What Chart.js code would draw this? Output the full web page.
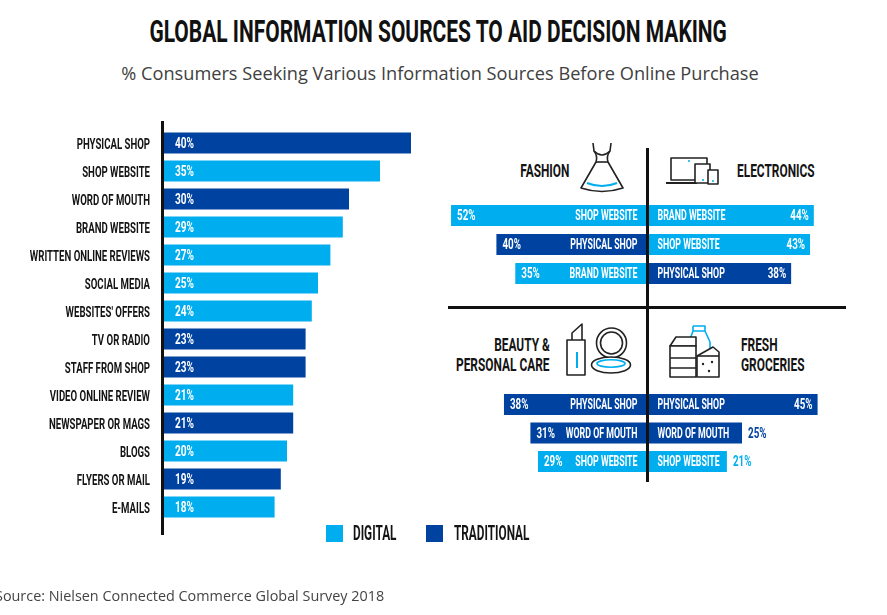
<!DOCTYPE html>
<html>
<head>
<meta charset="utf-8">
<script src="https://cdn.jsdelivr.net/npm/chart.js@4.4.0/dist/chart.umd.min.js"></script>
<style>
  body { margin: 0; background: #fff; }
  #page { position: relative; width: 887px; height: 615px; overflow: hidden; background: #fff; }
  .abs { position: absolute; }
  .cond { position: absolute; display: inline-block; font-family: Roboto, sans-serif; font-weight: 700;
          white-space: nowrap; color: #141414; }
  #title { left: 0; width: 877px; top: 16px; text-align: center; }
  #title span { display: inline-block; font: 700 31px/31px Roboto, sans-serif; color: #111;
                transform: scaleX(0.676); white-space: nowrap; }
  #subtitle { left: 0; width: 880px; top: 63.5px; text-align: center; font: 18.2px/18px "Open Sans", sans-serif;
              color: #404040; white-space: nowrap; }
  #source { left: -5px; top: 589.4px; font: 14.4px/14px "Open Sans", sans-serif; color: #444; white-space: nowrap; }
  .head { font-size: 17.5px; line-height: 17.5px; transform: scaleX(0.68); }
  .rt { transform-origin: right center; }
  .lt { transform-origin: left center; }
  .leg { font-size: 20px; line-height: 20px; transform: scaleX(0.59); transform-origin: left center; }
  .sw { position: absolute; width: 17px; height: 17px; }
  canvas { position: absolute; }
</style>
</head>
<body>
<div id="page">
  <div id="title" class="abs"><span>GLOBAL INFORMATION SOURCES TO AID DECISION MAKING</span></div>
  <div id="subtitle" class="abs">% Consumers Seeking Various Information Sources Before Online Purchase</div>

  <canvas id="main" width="450" height="420" style="left:0;top:118px"></canvas>
  <canvas id="top" width="420" height="100" style="left:440px;top:195px"></canvas>
  <canvas id="bottom" width="420" height="100" style="left:440px;top:385px"></canvas>

  <!-- dividers -->
  <div class="abs" style="left:645.75px;top:148px;width:3.5px;height:334px;background:#111"></div>
  <div class="abs" style="left:448px;top:306px;width:398px;height:3px;background:#111"></div>

  <span class="cond head rt" style="right:318px;top:162.7px">FASHION</span>
  <span class="cond head lt" style="left:737px;top:162.7px">ELECTRONICS</span>
  <span class="cond head rt" style="right:337px;top:336.7px">BEAUTY &amp;</span>
  <span class="cond head rt" style="right:337px;top:356.7px">PERSONAL CARE</span>
  <span class="cond head lt" style="left:741px;top:336.7px">FRESH</span>
  <span class="cond head lt" style="left:741px;top:356.7px">GROCERIES</span>

  <!-- icons -->
  <svg class="abs" style="left:0;top:0" width="887" height="615" fill="none" stroke="#222" stroke-width="1.6" stroke-linejoin="round">
    <!-- dress -->
    <path d="M593,143 L594,151 Q598,156 596,162 L581,188 Q602,195 623,188 L608,162 Q606,156 610,151 L611,143"/>
    <path d="M594,151 Q602,159 610,151"/>
    <path d="M596,162 L608,162"/>
    <path d="M587,183 Q602,189 617,183" stroke="#00AEEF" stroke-width="2"/>
    <!-- devices -->
    <rect x="671" y="158" width="36" height="22"/>
    <path d="M666,183 L697,183" stroke-width="2"/>
    <rect x="695" y="164" width="15" height="19" fill="#fff"/>
    <rect x="708" y="170" width="10" height="14" fill="#fff"/>
    <circle cx="689" cy="161" r="1" fill="#00AEEF" stroke="none"/>
    <circle cx="703" cy="180" r="1" fill="#00AEEF" stroke="none"/>
    <circle cx="713" cy="181" r="1" fill="#00AEEF" stroke="none"/>
    <!-- lipstick -->
    <path d="M572,340 L572,333 L582,324 L582,340"/>
    <rect x="567" y="340" width="18" height="35"/>
    <path d="M577,352 L577,368" stroke="#00AEEF" stroke-width="2"/>
    <!-- compact -->
    <circle cx="611.5" cy="343" r="15"/>
    <circle cx="611.5" cy="343" r="11"/>
    <ellipse cx="611" cy="365" rx="19.5" ry="8" fill="#fff"/>
    <ellipse cx="611" cy="363.5" rx="14" ry="3.7" stroke="#00AEEF"/>
    <!-- groceries -->
    <path d="M693,326 L705,326 L705,331 L710,342 L710,358 M693,326 L693,331 L689,342 L689,346 M693,331 L705,331" stroke="#00AEEF"/>
    <path d="M670,346 L676,337 L696,337 L696,346 Z" fill="#fff"/>
    <rect x="670" y="346" width="26" height="31" fill="#fff"/>
    <path d="M670,358 L696,358 M670,368 L696,368"/>
    <path d="M697,356 L713,347 L719,352 L719,377 L697,377 Z" fill="#fff"/>
    <path d="M697,356 L719,356"/>
    <circle cx="703" cy="364" r="1.2" fill="#222" stroke="none"/>
    <circle cx="712" cy="362" r="1.2" fill="#222" stroke="none"/>
    <circle cx="709" cy="371" r="1.2" fill="#222" stroke="none"/>
  </svg>

  <div id="legend"></div>

  <div id="source" class="abs">Source: Nielsen Connected Commerce Global Survey 2018</div>
</div>

<script>
const DIGITAL = '#00AEEF';
const TRADITIONAL = '#0042A0';

// main chart
const sourceLabels = ['PHYSICAL SHOP', 'SHOP WEBSITE', 'WORD OF MOUTH', 'BRAND WEBSITE', 'WRITTEN ONLINE REVIEWS',
  'SOCIAL MEDIA', "WEBSITES' OFFERS", 'TV OR RADIO', 'STAFF FROM SHOP', 'VIDEO ONLINE REVIEW',
  'NEWSPAPER OR MAGS', 'BLOGS', 'FLYERS OR MAIL', 'E-MAILS'];
const sourceValues = [40, 35, 30, 29, 27, 25, 24, 23, 23, 21, 21, 20, 19, 18];
const sourceKinds = ['T', 'D', 'T', 'D', 'D', 'D', 'D', 'T', 'T', 'D', 'T', 'D', 'T', 'D'];

// category panels
const fashionLabels = ['SHOP WEBSITE', 'PHYSICAL SHOP', 'BRAND WEBSITE'];
const fashionValues = [52, 40, 35];
const fashionKinds = ['D', 'T', 'D'];

const electronicsLabels = ['BRAND WEBSITE', 'SHOP WEBSITE', 'PHYSICAL SHOP'];
const electronicsValues = [44, 43, 38];
const electronicsKinds = ['D', 'D', 'T'];

const beautyLabels = ['PHYSICAL SHOP', 'WORD OF MOUTH', 'SHOP WEBSITE'];
const beautyValues = [38, 31, 29];
const beautyKinds = ['T', 'T', 'D'];

const groceryLabels = ['PHYSICAL SHOP', 'WORD OF MOUTH', 'SHOP WEBSITE'];
const groceryValues = [45, 25, 21];
const groceryKinds = ['T', 'T', 'D'];

const legendLabels = ['DIGITAL', 'TRADITIONAL'];

const kindColor = k => (k === 'D' ? DIGITAL : TRADITIONAL);

// condensed text: draws with a horizontal squeeze so Roboto looks like the narrow poster face
function squeezed(ctx, text, x, y, size, color, align, sq) {
  ctx.save();
  ctx.font = '700 ' + size + 'px Roboto, sans-serif';
  ctx.fillStyle = color;
  ctx.textAlign = align;
  ctx.textBaseline = 'alphabetic';
  ctx.translate(x, y + size * 0.711 / 2);
  ctx.scale(sq, 1);
  ctx.fillText(text, 0, 0);
  ctx.restore();
}
function squeezedWidth(ctx, text, size, sq) {
  ctx.save();
  ctx.font = '700 ' + size + 'px Roboto, sans-serif';
  const w = ctx.measureText(text).width * sq;
  ctx.restore();
  return w;
}

const mainLabelPlugin = {
  id: 'mainLabels',
  afterDatasetsDraw(chart) {
    const { ctx, chartArea } = chart;
    // axis line
    ctx.save();
    ctx.fillStyle = '#111';
    ctx.fillRect(chartArea.left - 2, chartArea.top - 8, 3, chartArea.bottom - chartArea.top + 22);
    ctx.restore();
    const meta = chart.getDatasetMeta(0);
    meta.data.forEach((bar, i) => {
      squeezed(ctx, chart.data.labels[i], chartArea.left - 13, bar.y, 15.5, '#141414', 'right', 0.62);
      squeezed(ctx, sourceValues[i] + '%', bar.base + 12, bar.y, 14, '#fff', 'left', 0.72);
    });
  }
};

new Chart(document.getElementById('main'), {
  type: 'bar',
  data: {
    labels: sourceLabels,
    datasets: [{
      data: sourceValues,
      backgroundColor: sourceKinds.map(kindColor),
      categoryPercentage: 1,
      barPercentage: 0.75
    }]
  },
  options: {
    indexAxis: 'y',
    responsive: false,
    animation: false,
    layout: { padding: { left: 163, right: 8, top: 11, bottom: 17 } },
    scales: {
      x: { display: false, min: 0, max: 45 },
      y: { display: false }
    },
    plugins: { legend: { display: false }, tooltip: { enabled: false } }
  },
  plugins: [mainLabelPlugin]
});

const panelLabelPlugin = {
  id: 'panelLabels',
  afterDatasetsDraw(chart) {
    const { ctx } = chart;
    chart.data.datasets.forEach((ds, di) => {
      const meta = chart.getDatasetMeta(di);
      meta.data.forEach((bar, i) => {
        const v = Math.abs(ds.data[i]) + '%';
        const label = ds.rowLabels[i];
        if (ds.side === 'left') {
          squeezed(ctx, label, bar.base - 10, bar.y, 14, '#fff', 'right', 0.63);
          squeezed(ctx, v, bar.x + 6, bar.y, 14, '#fff', 'left', 0.7);
        } else {
          squeezed(ctx, label, bar.base + 10, bar.y, 14, '#fff', 'left', 0.63);
          const need = 10 + squeezedWidth(ctx, label, 14, 0.63) + 12 + squeezedWidth(ctx, v, 14, 0.7) + 5;
          if (bar.x - bar.base > need) {
            squeezed(ctx, v, bar.x - 5, bar.y, 14, '#fff', 'right', 0.7);
          } else {
            squeezed(ctx, v, bar.x + 6, bar.y, 14, kindColor(ds.kinds[i]), 'left', 0.7);
          }
        }
      });
    });
  }
};

function panel(id, leftL, leftV, leftK, rightL, rightV, rightK, pad, barPct) {
  new Chart(document.getElementById(id), {
    type: 'bar',
    data: {
      labels: leftL,
      datasets: [
        { side: 'left', rowLabels: leftL, kinds: leftK, data: leftV.map(v => -v),
          backgroundColor: leftK.map(kindColor), categoryPercentage: 1, barPercentage: barPct },
        { side: 'right', rowLabels: rightL, kinds: rightK, data: rightV,
          backgroundColor: rightK.map(kindColor), categoryPercentage: 1, barPercentage: barPct }
      ]
    },
    options: {
      indexAxis: 'y',
      responsive: false,
      animation: false,
      layout: { padding: pad },
      scales: {
        x: { display: false, stacked: true, min: -54, max: 54 },
        y: { display: false, stacked: true }
      },
      plugins: { legend: { display: false }, tooltip: { enabled: false } }
    },
    plugins: [panelLabelPlugin]
  });
}

panel('top', fashionLabels, fashionValues, fashionKinds, electronicsLabels, electronicsValues, electronicsKinds,
  { left: 3.5, right: 8.4, top: 6, bottom: 7 }, 21 / 29);
panel('bottom', beautyLabels, beautyValues, beautyKinds, groceryLabels, groceryValues, groceryKinds,
  { left: 3.5, right: 8.4, top: 5.25, bottom: 9.25 }, 21 / 28.5);

// legend
const legendBox = document.getElementById('legend');
const legendPos = [{ sw: 326, tx: 353 }, { sw: 426, tx: 454 }];
legendLabels.forEach((name, i) => {
  const sw = document.createElement('div');
  sw.className = 'sw';
  sw.style.left = legendPos[i].sw + 'px';
  sw.style.top = '524.5px';
  sw.style.background = i === 0 ? DIGITAL : TRADITIONAL;
  legendBox.appendChild(sw);
  const t = document.createElement('span');
  t.className = 'cond leg';
  t.style.left = legendPos[i].tx + 'px';
  t.style.top = '523px';
  t.textContent = name;
  legendBox.appendChild(t);
});
</script>
</body>
</html>
